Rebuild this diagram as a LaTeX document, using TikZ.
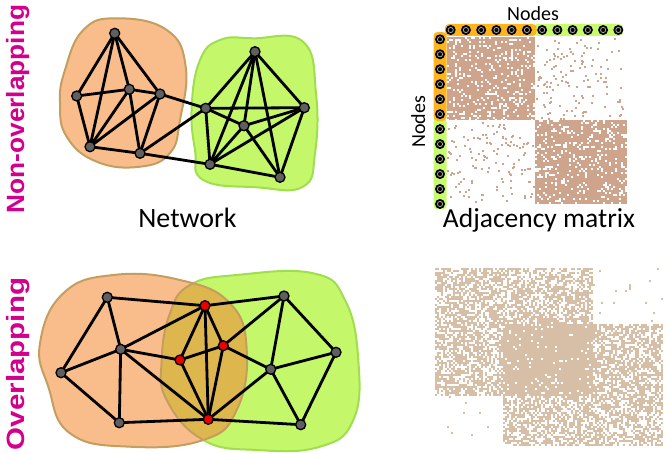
\documentclass[tikz,border=0pt]{standalone}
\usepackage{fontspec}
\setmainfont{Carlito}
\newfontfamily\labfont{Liberation Sans}
\pgfdeclarelayer{bg}
\pgfsetlayers{bg,main}
\definecolor{orfill}{RGB}{249,189,139}
\definecolor{ordraw}{RGB}{196,158,96}
\definecolor{grfill}{RGB}{197,247,106}
\definecolor{grdraw}{RGB}{160,222,80}
\definecolor{ovfill}{RGB}{222,182,78}
\definecolor{ndgray}{RGB}{95,95,95}
\definecolor{ndred}{RGB}{235,0,0}
\definecolor{magen}{RGB}{210,0,140}
\definecolor{mtop}{RGB}{206,164,140}
\definecolor{mbot}{RGB}{215,190,166}
\definecolor{barora}{RGB}{255,180,30}
\definecolor{bargrn}{RGB}{200,250,110}
\tikzset{
  nd/.style={circle, fill=ndgray, draw=black, line width=1.3pt, minimum size=10pt, inner sep=0pt},
  rnd/.style={nd, fill=ndred},
  edge/.style={line width=2.8pt, black},
  mdot/.style={circle, fill=black, minimum size=10pt, inner sep=0pt,
     path picture={\draw[gray!70, line width=0.8pt] (path picture bounding box.center) circle (2.6pt);}},
  bar/.style={rounded corners=4pt},
  sidelab/.style={rotate=90, anchor=base, text=magen, font=\labfont\bfseries\fontsize{25}{30}\selectfont},
  caption/.style={anchor=base, font=\fontsize{28}{32}\selectfont},
}
\def\blobOT{plot[smooth cycle, tension=0.75] coordinates {(116.7,18.3) (166.7,30) (185.7,66.7) (180,120) (170,153) (140,166.7) (96.7,161.7) (66.7,136.7) (60,103) (65,70) (83.3,30)}}
\def\blobGT{plot[smooth cycle, tension=0.75] coordinates {(253.3,38.3) (303,41.7) (316,93.3) (315,153.3) (303,186.7) (256.7,187.3) (203.3,180) (195,150) (191.7,106.7) (200,60) (220,40)}}
\def\blobOB{plot[smooth cycle, tension=0.75] coordinates {(113.3,275) (180,280) (230,303.3) (246.7,350) (236.7,410) (203.3,440) (130,446.7) (70,433.3) (48.3,386.7) (40,343.3) (63.3,293.3)}}
\def\blobGB{plot[smooth cycle, tension=0.75] coordinates {(190,285) (236.7,275) (313.3,273.3) (345,300) (358.3,360) (353.3,420) (320,446.7) (256.7,450) (203.3,440) (166.7,400) (161.7,360) (170,313.3)}}
\begin{document}
\begin{tikzpicture}[x=1pt,y=-1pt]
\useasboundingbox (0,0) rectangle (671,454);
% ---------- side labels
\node[sidelab] (lab1) at (24,109) {\scalebox{1.05}[1]{Non-overlapping}};
\node[sidelab] (lab2) at (24,364) {\scalebox{1.18}[1]{Overlapping}};
% ---------- top network
\begin{pgfonlayer}{bg}
\fill[orfill] \blobOT; \draw[ordraw, line width=2pt] \blobOT;
\fill[grfill] \blobGT; \draw[grdraw, line width=2pt] \blobGT;
\end{pgfonlayer}
\node[nd] (A) at (114.7,33.3) {};
\node[nd] (B) at (76.7,96) {};
\node[nd] (C) at (129.3,89.3) {};
\node[nd] (D) at (160,94) {};
\node[nd] (E) at (90,146.7) {};
\node[nd] (F) at (140,153.3) {};
\node[nd] (G) at (255,51.7) {};
\node[nd] (H) at (205.7,108.3) {};
\node[nd] (I) at (304.3,107.7) {};
\node[nd] (J) at (244,125.7) {};
\node[nd] (K) at (210,164.3) {};
\node[nd] (L) at (280,177.3) {};
\begin{pgfonlayer}{bg}
\foreach \u/\v in {A/B,A/E,A/C,A/D,B/C,B/E,C/D,C/E,C/F,D/E,D/F,E/F,D/H,F/H,F/K,
  G/H,G/K,G/J,G/L,G/I,H/I,H/J,H/K,J/I,J/L,K/J,K/I,K/L,I/L}
  \draw[edge] (\u.center) -- (\v.center);
\end{pgfonlayer}
\node[caption] (net) at (187.5,228) {Network};
% ---------- bottom network
\begin{pgfonlayer}{bg}
\fill[grfill] \blobGB;
\draw[grdraw, line width=2pt] \blobGB;
\fill[orfill] \blobOB;
\begin{scope}\clip \blobGB; \fill[ovfill] \blobOB; \end{scope}
\begin{scope}\clip \blobOB; \draw[ordraw, line width=2pt] \blobGB; \end{scope}
\draw[ordraw, line width=2pt] \blobOB;
\end{pgfonlayer}
\node[nd] (a) at (107.3,297.3) {};
\node[nd] (b) at (61,372.7) {};
\node[nd] (c) at (120.7,349.3) {};
\node[nd] (d) at (119.3,422.7) {};
\node[rnd] (r1) at (205,305.7) {};
\node[rnd] (r2) at (180,360) {};
\node[rnd] (r3) at (223.3,345.7) {};
\node[rnd] (r4) at (208.3,419.3) {};
\node[nd] (g1) at (284,296) {};
\node[nd] (g2) at (270.7,369.3) {};
\node[nd] (g3) at (336,352.3) {};
\node[nd] (g4) at (300.7,424.7) {};
\begin{pgfonlayer}{bg}
\foreach \u/\v in {a/r1,a/b,a/c,b/c,b/d,c/d,c/r1,c/r2,c/r4,d/r4,r1/r2,r1/r3,r1/r4,r1/g1,
  r2/r3,r2/r4,r3/r4,r3/g1,r3/g2,r4/g2,r4/g4,g1/g2,g1/g3,g2/g3,g2/g4,g3/g4}
  \draw[edge] (\u.center) -- (\v.center);
\end{pgfonlayer}
% ---------- top adjacency matrix
\pgfmathsetseed{11}
\fill[mtop] (447,37) rectangle (535,120);
\fill[mtop] (535,120) rectangle (627,204);
\foreach \i in {0,...,45}{
  \foreach \j in {0,...,41}{
    \pgfmathtruncatemacro\hit{rnd<0.18}
    \ifnum\hit=1 \fill[white] ({447+2*\i},{37+2*\j}) rectangle ++(2,2);\fi
    \pgfmathtruncatemacro\hit{rnd<0.18}
    \ifnum\hit=1 \fill[white] ({535+2*\i},{120+2*\j}) rectangle ++(2,2);\fi
  }
}
\fill[white] (535,36) rectangle (540,37.2);
\fill[white] (627,118) rectangle (630,205);
\foreach \k in {1,...,130}{
  \pgfmathtruncatemacro\xx{536+89*rnd}\pgfmathtruncatemacro\yy{38+81*rnd}
  \fill[mtop] (\xx,\yy) rectangle ++(2,2);
  \pgfmathtruncatemacro\xx{447+87*rnd}\pgfmathtruncatemacro\yy{121+82*rnd}
  \fill[mtop] (\xx,\yy) rectangle ++(2,2);
}
\fill[bargrn, bar] (533,24) rectangle (623,36);
\fill[barora, bar] (445,24) rectangle (536.5,36);
\fill[bargrn, bar] (433.5,118) rectangle (446.5,209.5);
\fill[barora, bar] (433.5,32) rectangle (446.5,121);
\foreach \i in {0,...,11}{
  \node[mdot] (t\i) at ({450.7+15.24*\i},30) {};
  \node[mdot] (l\i) at (440,{39.3+14.97*\i}) {};
}
\node[anchor=base, font=\fontsize{20}{24}\selectfont] (ntop) at (533,20.7) {Nodes};
\node[anchor=base, rotate=90, font=\fontsize{20}{24}\selectfont] (nleft) at (425,121.7) {Nodes};
\node[anchor=base, font=\fontsize{27.5}{30}\selectfont] (adj) at (539,228) {Adjacency matrix};
% ---------- bottom adjacency matrix
\foreach \i in {0,...,113}{
  \foreach \j in {0,...,88}{
    \pgfmathtruncatemacro\n{and(\i<79,\j<64)+and(\i>33,\j>27)}
    \ifcase\n \def\thr{0.01}\or \def\thr{0.6}\or \def\thr{0.93}\fi
    \pgfmathtruncatemacro\hit{rnd<\thr}
    \ifnum\hit=1 \fill[mbot] ({435+2*\i},{268+2*\j}) rectangle ++(2,2);\fi
  }
}
\end{tikzpicture}
\end{document}
